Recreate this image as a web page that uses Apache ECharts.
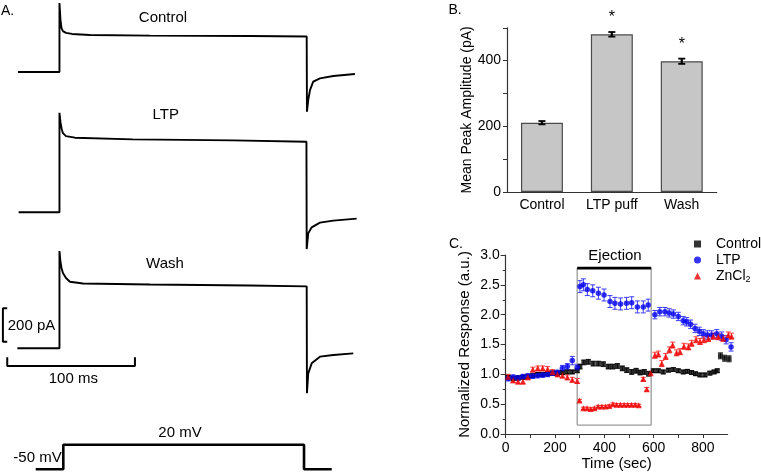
<!DOCTYPE html>
<html><head><meta charset="utf-8">
<script src="https://cdn.jsdelivr.net/npm/echarts@6/dist/echarts.min.js"></script>
<style>html,body{margin:0;padding:0;background:#fff}#c{width:761px;height:474px}</style>
</head><body><div id="c"></div>
<script>
// ---------- Panel A: current traces (time in ms from step onset, current in pA from baseline)
const ctrlTraceT = [-32.5, 0, 0, 0.8, 1.6, 2.7, 5.1, 9.8, 23.9, 70.9, 149.2, 193.6, 193.8, 194.8, 196.2, 198.7, 204, 214.4, 231.4];
const ctrlTraceI = [0, 0, 413, 311, 263, 245, 234, 228, 222, 218, 216, 213, -238, -168, -108, -58, -38, -24, -12];
const ltpTraceT = [-32, 0, 0, 0.8, 1.6, 2.7, 5.1, 12.1, 57.5, 135.9, 193.4, 193.6, 194.8, 197.5, 204, 214.4, 232.7];
const ltpTraceI = [0, 0, 596, 540, 504, 474, 456, 447, 437, 431, 423, -220, -126, -90, -62, -50, -38];
const washTraceT = [-33, 0, 0, 0.8, 1.6, 2.7, 5.1, 8.2, 18.4, 70.9, 149.2, 193.6, 193.8, 194.8, 197.5, 204, 214.4, 230.1];
const washTraceI = [0, 0, 583, 517, 481, 451, 421, 399, 388, 382, 376, 371, -269, -150, -90, -50, -40, -30];
const stepT = [-18.6, 3, 3, 191.5, 191.5, 213.2];
const stepMv = [-50, -50, 20, 20, -50, -50];
const scaleCurrentPA = 200, scaleTimeMs = 100;

// ---------- Panel B: bar chart
const bCats = ['Control', 'LTP puff', 'Wash'];
const bVals = [211, 480, 398];
const bErr = [5, 7, 8];
const bSig = ['', '*', '*'];

// ---------- Panel C: time course
const ctrlT = [10,30,50,70,90,110,130,150,170,190,210,230,250,270,290, 301,317,335,355,376,396,416,434,453,473,491,511,529,545,562,580, 599,619,639,660,680,700,720,737,754,770,788,808,828,845,858,871,888,906];
const ctrlV = [0.95,0.93,0.94,0.95,0.96,0.98,1.00,1.00,1.01,1.02,1.02,1.03,1.04,1.04,1.06, 1.13,1.20,1.21,1.18,1.18,1.17,1.13,1.13,1.14,1.10,1.07,1.04,1.06,1.03,1.04,1.01, 1.06,1.06,1.04,1.07,1.08,1.06,1.04,1.05,1.03,1.01,0.99,0.99,1.02,1.04,1.06,1.31,1.27,1.26];
const ctrlE = [0.03,0.03,0.03,0.03,0.03,0.03,0.03,0.03,0.03,0.03,0.03,0.03,0.03,0.03,0.03, 0.04,0.04,0.04,0.04,0.04,0.04,0.04,0.04,0.04,0.04,0.04,0.04,0.04,0.04,0.04,0.04, 0.03,0.03,0.03,0.03,0.03,0.03,0.03,0.03,0.03,0.03,0.03,0.03,0.03,0.03,0.03,0.05,0.05,0.05];
const ltpT = [10,30,50,70,90,110,130,150,170,190,210,230,250,270,290, 301,315,331,353,376,399,423,443,466,490,511,534,558,578, 605,625,646,663,680,700,720,734,750,768,785,801,818,835,856,876,894,914];
const ltpV = [0.93,0.95,0.94,0.96,0.97,0.97,0.98,0.99,1.00,1.02,1.03,1.10,1.13,1.23,1.12, 2.47,2.50,2.42,2.40,2.36,2.33,2.22,2.19,2.18,2.19,2.20,2.13,2.13,2.16, 2.00,2.05,2.05,2.03,2.01,1.97,1.90,1.88,1.84,1.77,1.72,1.68,1.66,1.66,1.68,1.64,1.58,1.46];
const ltpE = [0.04,0.04,0.04,0.04,0.04,0.04,0.04,0.04,0.04,0.04,0.04,0.05,0.05,0.07,0.05, 0.1,0.1,0.1,0.1,0.1,0.1,0.1,0.1,0.1,0.1,0.1,0.1,0.1,0.1, 0.07,0.07,0.07,0.07,0.07,0.07,0.07,0.07,0.07,0.07,0.07,0.07,0.07,0.07,0.07,0.07,0.07,0.07];
const znT = [10,30,50,70,90,110,130,150,170,190,210,230,250,270,290, 299,315,330,345,360,375,390,405,420,435,450,465,480,495,510,525,540, 558,572,588, 605,619,633,649,664,677,693,707,723,741,754,772,788,804,822,842,862,882,903,916];
const znV = [0.96,0.90,0.88,0.88,0.95,1.08,1.10,1.10,1.09,1.04,1.00,0.98,0.95,0.91,0.89, 0.56,0.43,0.43,0.42,0.43,0.46,0.46,0.46,0.47,0.50,0.49,0.49,0.49,0.49,0.49,0.49,0.48, 0.92,0.75,1.02, 1.32,1.34,1.18,1.30,1.41,1.49,1.36,1.38,1.47,1.46,1.52,1.58,1.55,1.58,1.60,1.64,1.63,1.60,1.66,1.64];
const znE = [0.04,0.04,0.04,0.04,0.04,0.04,0.04,0.04,0.04,0.04,0.04,0.04,0.04,0.04,0.04, 0.02,0.02,0.02,0.02,0.02,0.02,0.02,0.02,0.02,0.02,0.02,0.02,0.02,0.02,0.02,0.02,0.02, 0.03,0.03,0.03, 0.05,0.05,0.05,0.05,0.05,0.05,0.05,0.05,0.05,0.05,0.05,0.05,0.05,0.05,0.05,0.05,0.05,0.05,0.05,0.05];
const ejectionWin = [290, 590];
const ejectionBox = [0.15, 2.78];

const FONT = "'Liberation Sans', Arial, sans-serif";
const zip = (a, b) => a.map((v, i) => [v, b[i]]);
const zip3 = (a, b, c) => a.map((v, i) => [v, b[i], c[i]]);

function errRender(color, hw, lw) {
  return function (params, api) {
    const x = api.value(0), y = api.value(1), e = api.value(2);
    const t = api.coord([x, y + e]), b = api.coord([x, y - e]);
    return { type: 'group', children: [
      { type: 'line', shape: { x1: t[0], y1: t[1], x2: b[0], y2: b[1] }, style: { stroke: color, lineWidth: lw } },
      { type: 'line', shape: { x1: t[0] - hw, y1: t[1], x2: t[0] + hw, y2: t[1] }, style: { stroke: color, lineWidth: lw } },
      { type: 'line', shape: { x1: b[0] - hw, y1: b[1], x2: b[0] + hw, y2: b[1] }, style: { stroke: color, lineWidth: lw } }
    ]};
  };
}

const hiddenX = (min, max, g) => ({ type: 'value', gridIndex: g, min, max, show: false });
const hiddenY = (min, max, g) => ({ type: 'value', gridIndex: g, min, max, show: false });
const traceLine = (data, idx, w) => ({ type: 'line', xAxisIndex: idx, yAxisIndex: idx, data, showSymbol: false, silent: true,
  lineStyle: { color: '#000', width: w || 1.9 }, clip: false });

const chart = echarts.init(document.getElementById('c'));
const option = {
  animation: false,
  backgroundColor: '#fff',
  textStyle: { fontFamily: FONT, color: '#000' },
  grid: [
    { left: 2, width: 383.1, top: 0.2, height: 121.9 },
    { left: 2, width: 383.1, top: 108.8, height: 153.6 },
    { left: 2, width: 383.1, top: 244.8, height: 153.6 },
    { left: 2, width: 383.1, top: 441.2, height: 31.6 },
    { left: 507, right: 44.3, top: 27.75, bottom: 282 },
    { left: 505.7, width: 221.9, top: 255, height: 179 }
  ],
  xAxis: [
    hiddenX(-45, 255, 0), hiddenX(-45, 255, 1), hiddenX(-45, 255, 2), hiddenX(-45, 255, 3),
    { type: 'category', gridIndex: 4, data: bCats,
      axisLine: { lineStyle: { color: '#333', width: 1.2 } },
      axisTick: { alignWithLabel: true, length: 4, lineStyle: { color: '#333' } },
      axisLabel: { color: '#000', fontSize: 14, margin: 6, fontFamily: FONT } },
    { type: 'value', gridIndex: 5, min: 0, max: 900, interval: 100,
      name: 'Time (sec)', nameLocation: 'middle', nameGap: 22,
      nameTextStyle: { fontSize: 15, color: '#000', fontFamily: FONT },
      axisLine: { lineStyle: { color: '#333', width: 1.2 } },
      axisTick: { length: 4, lineStyle: { color: '#333' } },
      splitLine: { show: false },
      axisLabel: { color: '#000', fontSize: 14, margin: 7, fontFamily: FONT, showMaxLabel: false,
        formatter: v => (v % 200 === 0 ? String(v) : '') } }
  ],
  yAxis: [
    hiddenY(-300, 430, 0), hiddenY(-300, 620, 1), hiddenY(-300, 620, 2), hiddenY(-60, 30, 3),
    { type: 'value', gridIndex: 4, min: 0, max: 500, interval: 100,
      name: 'Mean Peak Amplitude (pA)', nameLocation: 'middle', nameGap: 33,
      nameTextStyle: { fontSize: 14, color: '#000', fontFamily: FONT },
      axisLine: { show: true, lineStyle: { color: '#333', width: 1.2 } },
      axisTick: { show: true, length: 4, lineStyle: { color: '#333' } },
      splitLine: { show: false },
      axisLabel: { color: '#000', fontSize: 14, margin: 6, fontFamily: FONT,
        formatter: v => (v % 200 === 0 ? String(v) : '') } },
    { type: 'value', gridIndex: 5, min: 0, max: 3, interval: 0.5,
      name: 'Normalized Response (a.u.)', nameLocation: 'middle', nameGap: 33,
      nameTextStyle: { fontSize: 15, color: '#000', fontFamily: FONT },
      axisLine: { show: true, lineStyle: { color: '#333', width: 1.2 } },
      axisTick: { show: true, length: 5, lineStyle: { color: '#333' } },
      minorTick: { show: true, splitNumber: 2, length: 3, lineStyle: { color: '#333' } },
      splitLine: { show: false },
      axisLabel: { color: '#000', fontSize: 14, margin: 6, fontFamily: FONT, formatter: v => v.toFixed(1) } }
  ],
  legend: {
    data: ['Control', 'LTP', 'ZnCl2'], orient: 'vertical', left: 689, top: 232,
    itemWidth: 7, itemHeight: 7, itemGap: 2,
    textStyle: { fontSize: 14, color: '#000', fontFamily: FONT, lineHeight: 14, overflow: 'none',
      rich: { g: { width: 10 }, t: { fontSize: 14, fontFamily: FONT }, sub: { fontSize: 9, fontFamily: FONT, padding: [7, 0, 0, 0] } } },
    formatter: n => n === 'ZnCl2' ? '{g| }{t|ZnCl}{sub|2}' : '{g| }{t|' + n + '}'
  },
  graphic: [
    { type: 'text', left: 1, top: 4, style: { text: 'A.', font: '14px ' + FONT, fill: '#000' } },
    { type: 'text', x: 163, y: 18, style: { text: 'Control', font: '15px ' + FONT, fill: '#000', align: 'center', verticalAlign: 'middle' } },
    { type: 'text', x: 165.7, y: 115, style: { text: 'LTP', font: '15px ' + FONT, fill: '#000', align: 'center', verticalAlign: 'middle' } },
    { type: 'text', x: 165, y: 264, style: { text: 'Wash', font: '15px ' + FONT, fill: '#000', align: 'center', verticalAlign: 'middle' } },
    { type: 'text', x: 31.5, y: 326, style: { text: scaleCurrentPA + ' pA', font: '15px ' + FONT, fill: '#000', align: 'center', verticalAlign: 'middle' } },
    { type: 'text', x: 73.3, y: 378.5, style: { text: scaleTimeMs + ' ms', font: '15px ' + FONT, fill: '#000', align: 'center', verticalAlign: 'middle' } },
    { type: 'text', x: 180, y: 433, style: { text: '20 mV', font: '15px ' + FONT, fill: '#000', align: 'center', verticalAlign: 'middle' } },
    { type: 'text', x: 61.7, y: 457.5, style: { text: '-50 mV', font: '15px ' + FONT, fill: '#000', align: 'right', verticalAlign: 'middle' } },
    { type: 'text', x: 455, y: 10, style: { text: 'B.', font: '14px ' + FONT, fill: '#000', align: 'center', verticalAlign: 'middle' } },
    { type: 'text', x: 456, y: 244, style: { text: 'C.', font: '14px ' + FONT, fill: '#000', align: 'center', verticalAlign: 'middle' } },
    { type: 'text', x: 615, y: 256, style: { text: 'Ejection', font: '15px ' + FONT, fill: '#000', align: 'center', verticalAlign: 'middle' } }
  ],
  series: [
    traceLine(zip(ctrlTraceT, ctrlTraceI), 0),
    traceLine(zip(ltpTraceT, ltpTraceI), 1),
    traceLine(zip(washTraceT, washTraceI), 2),
    // scale bars in the Wash panel's units
    traceLine([[-40.9, 40], [-44.3, 40], [-44.3, 40 + scaleCurrentPA], [-40.9, 40 + scaleCurrentPA]], 2, 2),
    traceLine([[-40.9, -54], [-40.9, -106], [-40.9 + scaleTimeMs, -106], [-40.9 + scaleTimeMs, -54]], 2, 2),
    traceLine(zip(stepT, stepMv), 3, 2.6),
    // Panel B
    { type: 'bar', xAxisIndex: 4, yAxisIndex: 4, data: bVals, barWidth: '60%',
      itemStyle: { color: '#c6c6c6', borderColor: '#4a4a4a', borderWidth: 1.2 } },
    { type: 'custom', xAxisIndex: 4, yAxisIndex: 4, data: bVals.map((v, i) => [i, v, bErr[i]]),
      encode: { x: 0, y: 1 }, z: 5,
      renderItem: function (params, api) {
        const i = api.value(0), y = api.value(1), e = api.value(2);
        const t = api.coord([i, y + e]), b = api.coord([i, y - e]);
        const kids = [
          { type: 'line', shape: { x1: t[0], y1: t[1], x2: b[0], y2: b[1] }, style: { stroke: '#000', lineWidth: 2.2 } },
          { type: 'line', shape: { x1: t[0] - 3.5, y1: t[1], x2: t[0] + 3.5, y2: t[1] }, style: { stroke: '#000', lineWidth: 1.8 } },
          { type: 'line', shape: { x1: b[0] - 3.5, y1: b[1], x2: b[0] + 3.5, y2: b[1] }, style: { stroke: '#000', lineWidth: 1.8 } }
        ];
        const sig = bSig[params.dataIndex];
        if (sig) kids.push({ type: 'text', style: { text: sig, x: t[0], y: t[1] - 14, align: 'center', verticalAlign: 'middle', font: '16px ' + FONT, fill: '#000' } });
        return { type: 'group', children: kids };
      } },
    // Panel C: ejection window
    { type: 'line', xAxisIndex: 5, yAxisIndex: 5, showSymbol: false, silent: true,
      data: [[ejectionWin[0], ejectionBox[0]], [ejectionWin[0], ejectionBox[1]], [ejectionWin[1], ejectionBox[1]], [ejectionWin[1], ejectionBox[0]], [ejectionWin[0], ejectionBox[0]]],
      lineStyle: { color: '#9a9a9a', width: 1.3 } },
    { type: 'line', xAxisIndex: 5, yAxisIndex: 5, showSymbol: false, silent: true, z: 3,
      data: [[ejectionWin[0], ejectionBox[1]], [ejectionWin[1], ejectionBox[1]]],
      lineStyle: { color: '#000', width: 2.6 } },
    // error bars
    { type: 'custom', name: 'ctrlErr', xAxisIndex: 5, yAxisIndex: 5, data: zip3(ctrlT, ctrlV, ctrlE), encode: { x: 0, y: 1 }, renderItem: errRender('#222', 2.5, 1), z: 2 },
    { type: 'scatter', name: 'Control', xAxisIndex: 5, yAxisIndex: 5, data: zip(ctrlT, ctrlV), symbol: 'rect', symbolSize: 5, itemStyle: { color: '#000' }, clip: false, z: 3 },
    { type: 'custom', name: 'ltpErr', xAxisIndex: 5, yAxisIndex: 5, data: zip3(ltpT, ltpV, ltpE), encode: { x: 0, y: 1 }, renderItem: errRender('#3a3aff', 2.5, 1), z: 2 },
    { type: 'scatter', name: 'LTP', xAxisIndex: 5, yAxisIndex: 5, data: zip(ltpT, ltpV), symbol: 'circle', symbolSize: 5.5, itemStyle: { color: '#0000ee' }, clip: false, z: 3 },
    { type: 'custom', name: 'znErr', xAxisIndex: 5, yAxisIndex: 5, data: zip3(znT, znV, znE), encode: { x: 0, y: 1 }, renderItem: errRender('#ff4040', 2.5, 1), z: 2 },
    { type: 'scatter', name: 'ZnCl2', xAxisIndex: 5, yAxisIndex: 5, data: zip(znT, znV), symbol: 'triangle', symbolSize: 6, itemStyle: { color: '#ee0000' }, clip: false, z: 3 }
  ]
};
chart.setOption(option);
</script>
</body></html>
